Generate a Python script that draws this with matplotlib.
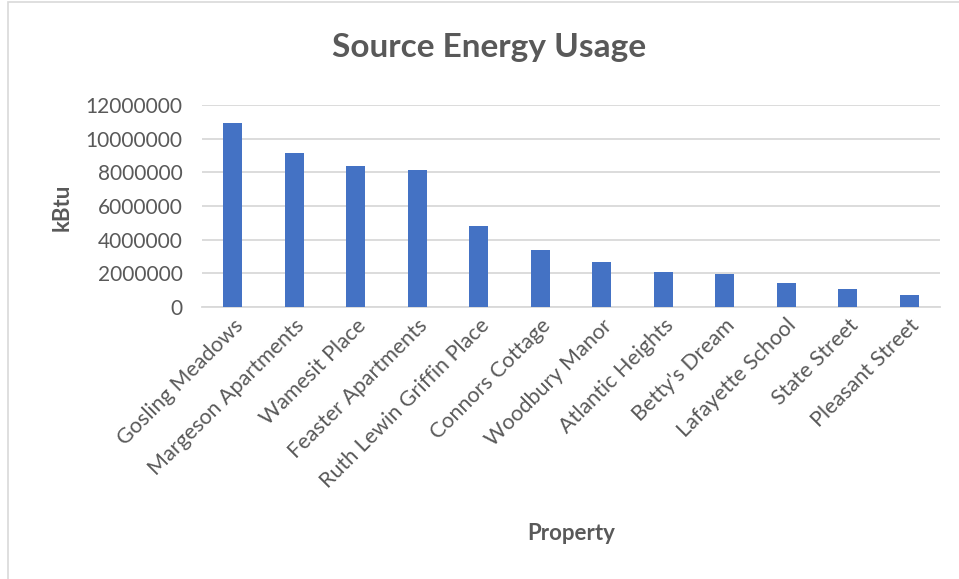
import matplotlib
matplotlib.use('Agg')
import matplotlib.pyplot as plt
from matplotlib.patches import Rectangle
import numpy as np

# Source energy usage per property (kBtu)
properties = [
    "Gosling Meadows", "Margeson Apartments", "Wamesit Place", "Feaster Apartments",
    "Ruth Lewin Griffin Place", "Connors Cottage", "Woodbury Manor", "Atlantic Heights",
    "Betty's Dream", "Lafayette School", "State Street", "Pleasant Street",
]
source_kbtu = [
    10930000, 9130000, 8360000, 8140000,
    4810000, 3370000, 2650000, 2080000,
    1940000, 1450000, 1050000, 730000,
]
y_ticks = [0, 2000000, 4000000, 6000000, 8000000, 10000000, 12000000]

text_gray = "#595959"
grid_gray = "#D9D9D9"
bar_blue = "#4472C4"

plt.rcParams['font.family'] = ['Lato', 'DejaVu Sans']

fig = plt.figure(figsize=(9.59, 5.79), dpi=100)
fig.patches.append(Rectangle((8 / 959, -0.01), 1.1, 1.01 - 2 / 579,
                             transform=fig.transFigure, fill=False,
                             edgecolor=grid_gray, linewidth=1.2))

ax = fig.add_axes([202 / 959, 1 - 307 / 579, 738 / 959, 202 / 579])
x = np.arange(len(properties))
ax.bar(x, source_kbtu, width=0.31, color=bar_blue, zorder=3)

ax.set_xlim(-0.5, len(properties) - 0.5)
ax.set_ylim(0, 12000000)
ax.set_yticks(y_ticks)
ax.set_yticklabels([str(v) for v in y_ticks], fontsize=15, color=text_gray)
ax.yaxis.grid(True, color=grid_gray, linewidth=1.3, zorder=0)
ax.tick_params(axis='y', length=0, pad=14)

ax.set_xticks(x)
ax.set_xticklabels(properties, rotation=45, ha='right', va='top',
                   rotation_mode='anchor', fontsize=15.5, color=text_gray)
ax.tick_params(axis='x', length=0, pad=6)

for side in ['top', 'right', 'left']:
    ax.spines[side].set_visible(False)
ax.spines['bottom'].set_color(grid_gray)
ax.spines['bottom'].set_linewidth(1.3)

fig.text(489 / 959, 1 - 48 / 579, "Source Energy Usage", ha='center', va='center',
         fontsize=24, color=text_gray, fontweight='bold')
fig.text(62 / 959, 1 - 207 / 579, "kBtu", ha='center', va='center', rotation=90,
         fontsize=16, color=text_gray, fontweight='bold')
fig.text(571 / 959, 1 - 533 / 579, "Property", ha='center', va='center',
         fontsize=16, color=text_gray, fontweight='bold')

fig.savefig("out.png", dpi=100, facecolor='white')
